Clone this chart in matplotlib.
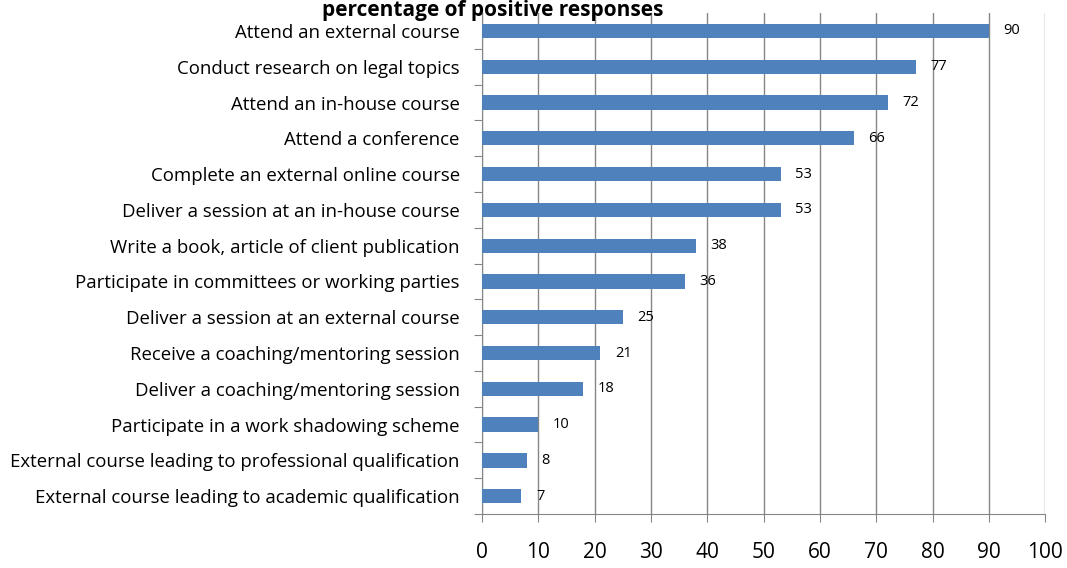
import numpy as np
from matplotlib import pyplot as plt

categories = [
    "Attend an external course",
    "Conduct research on legal topics",
    "Attend an in-house course",
    "Attend a conference",
    "Complete an external online course",
    "Deliver a session at an in-house course",
    "Write a book, article of client publication",
    "Participate in committees or working parties",
    "Deliver a session at an external course",
    "Receive a coaching/mentoring session",
    "Deliver a coaching/mentoring session",
    "Participate in a work shadowing scheme",
    "External course leading to professional qualification",
    "External course leading to academic qualification",
]
values = [90, 77, 72, 66, 53, 53, 38, 36, 25, 21, 18, 10, 8, 7]
xticks = [0, 10, 20, 30, 40, 50, 60, 70, 80, 90, 100]

plt.rcParams['font.family'] = ['Open Sans', 'DejaVu Sans']

fig = plt.figure(figsize=(10.67, 5.68), dpi=100)
ax = fig.add_axes([0.4517, 0.095, 0.528, 0.882])

y = np.arange(len(categories))[::-1]
ax.barh(y, values, height=0.4, color='#4F81BD', zorder=3)
for yy, v in zip(y, values):
    ax.text(v + 2.6, yy, str(v), va='center', ha='left', fontsize=10.5, zorder=4)

ax.set_xlim(0, 100)
ax.set_ylim(-0.5, len(categories) - 0.5)
ax.set_xticks(xticks)
ax.set_xticklabels([str(t) for t in xticks], fontsize=15)
ax.set_yticks(np.arange(len(categories) + 1) - 0.5, minor=False)
ax.set_yticklabels([])
ax.set_yticks(y, minor=True)
ax.set_yticklabels(categories, minor=True, fontsize=13.4)
ax.tick_params(axis='y', which='minor', length=0, pad=16)
ax.tick_params(axis='y', which='major', length=6, color='#868686', direction='out')
ax.tick_params(axis='x', length=6, color='#868686', direction='out', pad=14)
ax.grid(axis='x', color='#868686', linewidth=1, zorder=0)
for s in ['top', 'right']:
    ax.spines[s].set_visible(False)
for s in ['left', 'bottom']:
    ax.spines[s].set_color('#868686')

fig.text(0.462, 0.982, "percentage of positive responses", ha='center', va='center',
         fontsize=15, fontweight='bold')

fig.savefig('out.png', dpi=100)
